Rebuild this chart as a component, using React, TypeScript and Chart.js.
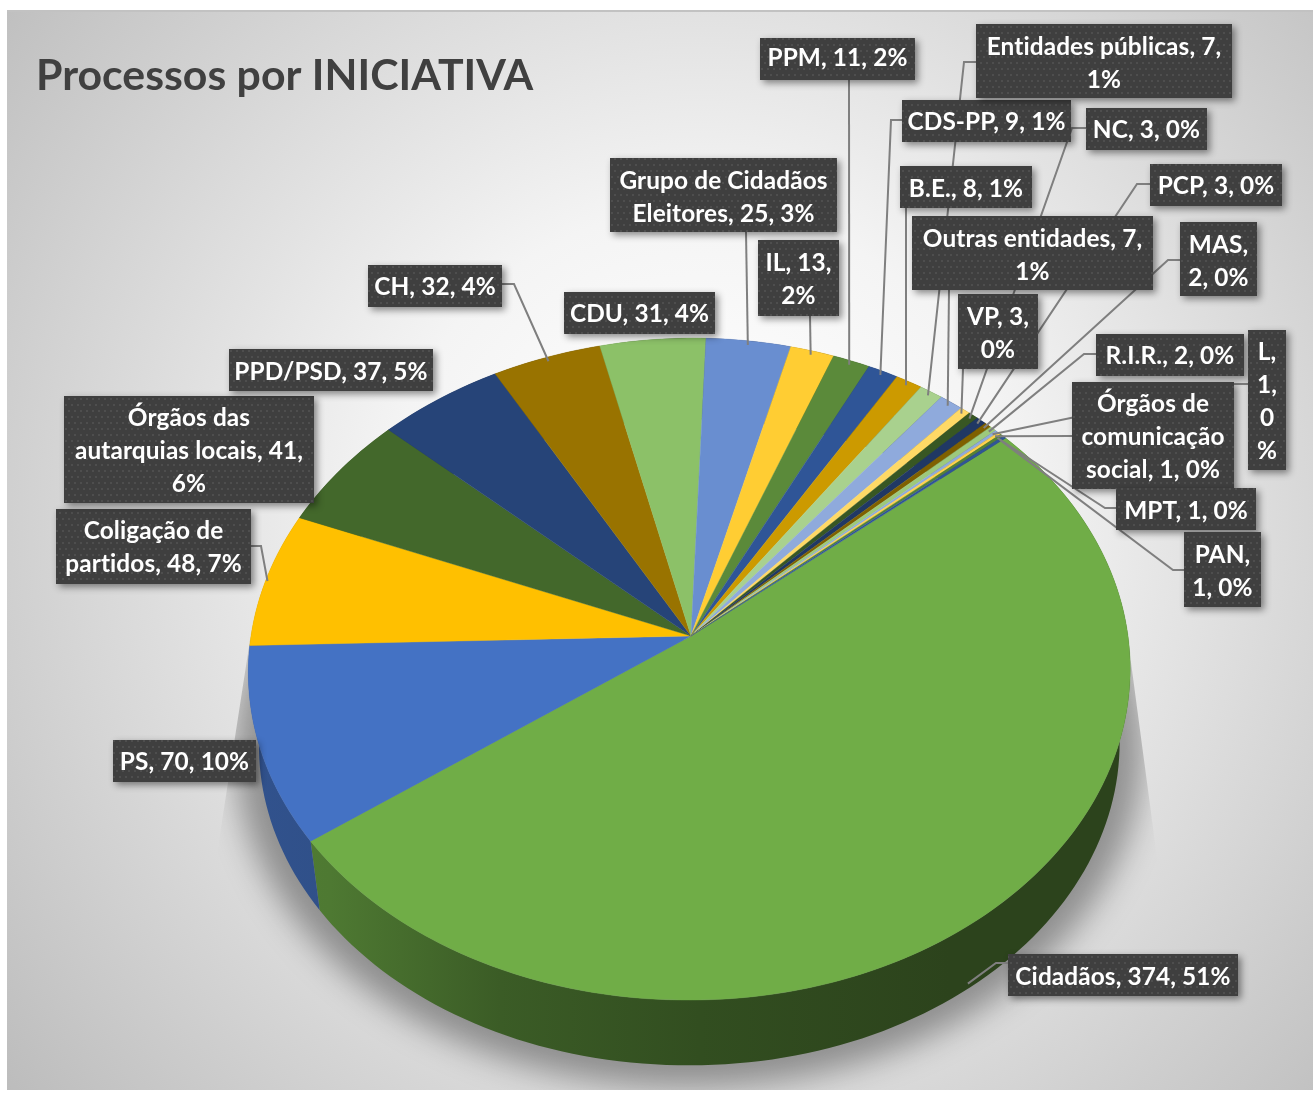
import React, { useEffect, useRef } from "react";
import { Chart, registerables } from "chart.js";

Chart.register(...registerables);

const categories = [
  "Cidadãos", "PS", "Coligação de partidos", "Órgãos das autarquias locais", "PPD/PSD", "CH", "CDU",
  "Grupo de Cidadãos Eleitores", "IL", "PPM", "CDS-PP", "B.E.", "Entidades públicas", "Outras entidades",
  "VP", "NC", "PCP", "MAS", "R.I.R.", "L", "Órgãos de comunicação social", "MPT", "PAN",
];
const values = [374, 70, 48, 41, 37, 32, 31, 25, 13, 11, 9, 8, 7, 7, 3, 3, 3, 2, 2, 1, 1, 1, 1];
const sliceColors = [
  "#70AD47", "#4472C4", "#FFC000", "#43682B", "#264478", "#997300", "#8CC168", "#698ED0", "#FFCD33",
  "#5B8A3A", "#2F5597", "#CC9A00", "#A9D18E", "#8FAADC", "#FFD966", "#385723", "#203864", "#7F6000",
  "#9DC97C", "#8FAADC", "#FFD24D", "#548235", "#2F5597",
];
const labelLines = [
  ["Cidadãos, 374, 51%"], ["PS, 70, 10%"], ["Coligação de", "partidos, 48, 7%"],
  ["Órgãos das", "autarquias locais, 41,", "6%"], ["PPD/PSD, 37, 5%"], ["CH, 32, 4%"], ["CDU, 31, 4%"],
  ["Grupo de Cidadãos", "Eleitores, 25, 3%"], ["IL, 13,", "2%"], ["PPM, 11, 2%"], ["CDS-PP, 9, 1%"],
  ["B.E., 8, 1%"], ["Entidades públicas, 7,", "1%"], ["Outras entidades, 7,", "1%"], ["VP, 3,", "0%"],
  ["NC, 3, 0%"], ["PCP, 3, 0%"], ["MAS,", "2, 0%"], ["R.I.R., 2, 0%"], ["L,", "1,", "0", "%"],
  ["Órgãos de", "comunicação", "social, 1, 0%"], ["MPT, 1, 0%"], ["PAN,", "1, 0%"],
];
// label box [left, top, right, bottom]
const labelBoxes = [
  [1008, 954, 1238, 996], [113, 740, 256, 782], [56, 509, 251, 584], [64, 396, 314, 503], [229, 349, 433, 391],
  [368, 265, 502, 307], [564, 292, 715, 334], [610, 158, 837, 232], [758, 240, 839, 316], [760, 38, 915, 80],
  [902, 100, 1071, 142], [900, 166, 1032, 208], [976, 24, 1232, 98], [912, 216, 1153, 290], [958, 294, 1038, 369],
  [1086, 108, 1207, 150], [1150, 164, 1282, 206], [1180, 222, 1257, 296], [1096, 334, 1244, 376], [1248, 330, 1286, 470],
  [1072, 382, 1234, 489], [1116, 488, 1256, 530], [1184, 532, 1261, 607],
];
const labelTextNudge = [1, 0, 0, 1, 1, 0, 0, 2, 1, -2, 0, 1, 2, 2, 1, 0, 0, 2, 0, 1, 1, 1, 1];
// leader route from label to the slice: points, then the rim
const leaderRoutes = [
  [[1008, 963], [996, 963]], [], [[251, 546], [261, 546]], [], [], [[502, 284], [514, 284]], [], [[746, 232]],
  [[810, 316]], [[849, 80]], [[902, 120], [891, 120]], [[906, 208]], [[976, 62], [964, 62]], [[949, 290]], [[963, 369]],
  [[1086, 128], [1072, 128]], [[1150, 184], [1137, 184]], [[1180, 260], [1168, 260]], [[1096, 354], [1084, 354]],
  [[1248, 384], [1234, 384]], [[1072, 436]], [[1116, 508], [1105, 508]], [[1184, 570], [1173, 570]],
];
const leaderEndOffset: Record<number, number[]> = { 0: [-9, 71], 2: [-5, 1] };

const W = 1313, H = 1093;
const AX = 691, AY = 636, RX_LEFT = 440.5, RX_RIGHT = 437, RY = 327.7, PERSP = 0.0997, LEFT_DROP = 3.5;
const DEPTH = 74, LOWER = 0.976;
const wallStops = [[250, 0.72], [330, 0.7], [500, 0.53], [700, 0.45], [950, 0.39], [1130, 0.39]];

function project(a: number, r = 1, lower = false) {
  const u = Math.cos(a) * r, v = Math.sin(a) * r, w = 1 - PERSP * v;
  const s = lower ? LOWER : 1;
  const rx = u < 0 ? RX_LEFT : RX_RIGHT;
  const drop = Math.max(0, -u) * LEFT_DROP;
  return [AX + (rx * s * u) / w, AY + (lower ? DEPTH : 0) + drop + (RY * s * v) / w];
}

function shade(hex: string, f: number) {
  const n = parseInt(hex.slice(1), 16);
  return `rgb(${((n >> 16) & 255) * f},${((n >> 8) & 255) * f},${(n & 255) * f})`;
}

function makePattern(ctx: CanvasRenderingContext2D) {
  const c = document.createElement("canvas");
  c.width = 12; c.height = 12;
  const p = c.getContext("2d")!;
  p.fillStyle = "#3f3f3f";
  p.fillRect(0, 0, 12, 12);
  p.fillStyle = "#4e4e4e";
  p.fillRect(2, 2, 2, 2);
  p.fillRect(8, 2, 2, 2);
  p.fillRect(5, 8, 2, 2);
  p.fillRect(11, 8, 1, 2);
  p.fillRect(0, 8, 1, 2);
  return ctx.createPattern(c, "repeat")!;
}

const scene = {
  id: "scene",
  beforeDraw(chart: any) {
    const ctx = chart.ctx as CanvasRenderingContext2D;
    ctx.save();
    ctx.fillStyle = "#fff";
    ctx.fillRect(0, 0, W, H);
    const g = ctx.createRadialGradient(700, 520, 60, 700, 520, 900);
    g.addColorStop(0, "#ffffff");
    g.addColorStop(0.3, "#f4f4f4");
    g.addColorStop(0.85, "#c8c8c8");
    g.addColorStop(1, "#bcbcbc");
    ctx.fillStyle = g;
    ctx.fillRect(7, 11, W - 7, 1079);
    ctx.fillStyle = "#c2c2c2";
    ctx.fillRect(7, 10, W - 7, 2);
    ctx.restore();
  },
  beforeDatasetsDraw(chart: any) {
    const ctx = chart.ctx as CanvasRenderingContext2D;
    const arcs = chart.getDatasetMeta(0).data;
    ctx.save();
    // soft shadow on the floor
    ctx.save();
    ctx.beginPath();
    ctx.moveTo(250, 640);
    ctx.lineTo(1128, 640);
    ctx.lineTo(1160, 880);
    ctx.lineTo(1313, 1000);
    ctx.lineTo(1313, 1090);
    ctx.lineTo(7, 1090);
    ctx.lineTo(7, 1000);
    ctx.lineTo(216, 860);
    ctx.closePath();
    ctx.clip();
    ctx.filter = "blur(16px)";
    ctx.fillStyle = "rgba(0,0,0,0.36)";
    ctx.beginPath();
    for (let i = 0; i <= 120; i++) {
      const p = project((i / 120) * Math.PI * 2, 1.055, true);
      if (i) ctx.lineTo(p[0], p[1]); else ctx.moveTo(p[0], p[1]);
    }
    ctx.closePath();
    ctx.fill();
    ctx.restore();
    // side walls
    arcs.forEach((arc: any, i: number) => {
      const { startAngle, endAngle } = arc.getProps(["startAngle", "endAngle"], true);
      const n = Math.max(2, Math.ceil((endAngle - startAngle) * 40));
      const wg = ctx.createLinearGradient(250, 0, 1130, 0);
      wallStops.forEach(([x, f]) => wg.addColorStop((x - 250) / 880, shade(sliceColors[i], f)));
      ctx.fillStyle = wg;
      ctx.beginPath();
      for (let k = 0; k <= n; k++) {
        const p = project(startAngle + ((endAngle - startAngle) * k) / n);
        if (k) ctx.lineTo(p[0], p[1]); else ctx.moveTo(p[0], p[1]);
      }
      for (let k = n; k >= 0; k--) {
        const p = project(startAngle + ((endAngle - startAngle) * k) / n, 1, true);
        ctx.lineTo(p[0], p[1]);
      }
      ctx.closePath();
      ctx.fill();
    });
    // top faces
    arcs.forEach((arc: any, i: number) => {
      const { startAngle, endAngle } = arc.getProps(["startAngle", "endAngle"], true);
      const n = Math.max(2, Math.ceil((endAngle - startAngle) * 60));
      ctx.fillStyle = sliceColors[i];
      ctx.strokeStyle = sliceColors[i];
      ctx.lineWidth = 0.4;
      ctx.beginPath();
      ctx.moveTo(AX, AY);
      for (let k = 0; k <= n; k++) {
        const p = project(startAngle + ((endAngle - startAngle) * k) / n);
        ctx.lineTo(p[0], p[1]);
      }
      ctx.closePath();
      ctx.fill();
      ctx.stroke();
    });
    ctx.restore();
  },
  beforeDatasetDraw() {
    return false;
  },
  afterDatasetsDraw(chart: any) {
    const ctx = chart.ctx as CanvasRenderingContext2D;
    const arcs = chart.getDatasetMeta(0).data;
    ctx.save();
    ctx.strokeStyle = "#7f7f7f";
    ctx.lineWidth = 2;
    arcs.forEach((arc: any, i: number) => {
      const route = leaderRoutes[i];
      if (!route.length) return;
      const { startAngle, endAngle } = arc.getProps(["startAngle", "endAngle"], true);
      const end = project((startAngle + endAngle) / 2, 0.985);
      const off = leaderEndOffset[i] || [0, 0];
      ctx.beginPath();
      route.forEach((p, k) => (k ? ctx.lineTo(p[0], p[1]) : ctx.moveTo(p[0], p[1])));
      ctx.lineTo(end[0] + off[0], end[1] + off[1]);
      ctx.stroke();
    });
    const pattern = makePattern(ctx);
    labelBoxes.forEach(([l, t, r, b], i) => {
      ctx.save();
      ctx.shadowColor = "rgba(0,0,0,0.45)";
      ctx.shadowBlur = 7;
      ctx.shadowOffsetX = 3;
      ctx.shadowOffsetY = 3;
      ctx.fillStyle = "#3f3f3f";
      ctx.fillRect(l, t, r - l, b - t);
      ctx.restore();
      ctx.fillStyle = pattern;
      ctx.fillRect(l, t, r - l, b - t);
      ctx.fillStyle = "#ffffff";
      ctx.font = "bold 24.4px Lato";
      (ctx as any).letterSpacing = "0.1px";
      ctx.textAlign = "center";
      ctx.textBaseline = "middle";
      const lines = labelLines[i];
      const lh = 33;
      const mid = (t + b) / 2 + 1 + labelTextNudge[i];
      lines.forEach((s, k) => {
        ctx.fillText(s, (l + r) / 2, mid + (k - (lines.length - 1) / 2) * lh);
      });
    });
    ctx.restore();
  },
};

export default function App() {
  const ref = useRef<HTMLCanvasElement>(null);
  useEffect(() => {
    document.body.style.margin = "0";
    const chart = new Chart(ref.current!, {
      type: "pie",
      data: {
        labels: categories,
        datasets: [{ data: values, backgroundColor: sliceColors, borderWidth: 0 }],
      },
      options: {
        responsive: false,
        animation: false,
        rotation: 50,
        layout: { padding: { left: 36, top: 51 } },
        plugins: {
          legend: { display: false },
          tooltip: { enabled: false },
          title: {
            display: true,
            text: "Processos por INICIATIVA",
            align: "start",
            color: "#404040",
            font: { family: "Lato", size: 42.8, weight: "bold" },
            padding: 0,
          },
        },
      },
      plugins: [scene],
    } as any);
    return () => chart.destroy();
  }, []);
  return <canvas ref={ref} width={W} height={H} style={{ display: "block" }} />;
}
